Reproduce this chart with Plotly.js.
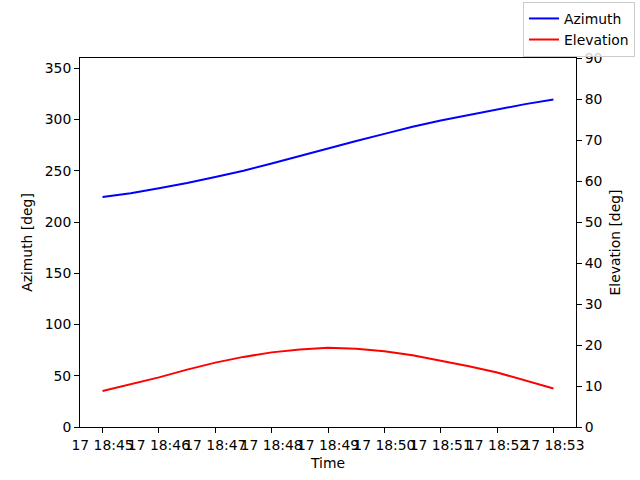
<!DOCTYPE html>
<html>
<head>
<meta charset="utf-8">
<script src="https://cdn.plot.ly/plotly-3.0.1.min.js"></script>
<style>html,body{margin:0;padding:0;background:#fff;}</style>
</head>
<body>
<div id="chart" style="width:640px;height:480px;"></div>
<script>
var times = [
  "2024-01-17 18:45:00","2024-01-17 18:45:30","2024-01-17 18:46:00","2024-01-17 18:46:30",
  "2024-01-17 18:47:00","2024-01-17 18:47:30","2024-01-17 18:48:00","2024-01-17 18:48:30",
  "2024-01-17 18:49:00","2024-01-17 18:49:30","2024-01-17 18:50:00","2024-01-17 18:50:30",
  "2024-01-17 18:51:00","2024-01-17 18:51:30","2024-01-17 18:52:00","2024-01-17 18:52:30",
  "2024-01-17 18:53:00"
];
var azimuth = [224.4, 228, 233, 238, 244, 250, 257, 264.5, 272, 279, 286, 293, 299, 304.5, 310, 315, 319.5];
var elevation = [8.8, 10.5, 12.1, 14.0, 15.7, 17.1, 18.2, 18.9, 19.3, 19.1, 18.5, 17.5, 16.2, 14.8, 13.3, 11.4, 9.4];
var leftTicks = [0, 50, 100, 150, 200, 250, 300, 350];
var rightTicks = [0, 10, 20, 30, 40, 50, 60, 70, 80, 90];

var font = {family: "DejaVu Sans", size: 13.9, color: "#000"};
var traces = [
  {x: times, y: azimuth, name: "Azimuth", type: "scatter", mode: "lines",
   line: {color: "blue", width: 2}, yaxis: "y"},
  {x: times, y: elevation, name: "Elevation", type: "scatter", mode: "lines",
   line: {color: "red", width: 2}, yaxis: "y2"}
];
var layout = {
  width: 640, height: 480,
  margin: {l: 80, r: 64, t: 58, b: 53, pad: 0, autoexpand: false},
  paper_bgcolor: "#fff", plot_bgcolor: "#fff",
  font: font,
  showlegend: true,
  legend: {x: 1.119, xanchor: "right", y: 1.152, yanchor: "top",
           bordercolor: "#cccccc", borderwidth: 1, bgcolor: "rgba(255,255,255,0.8)",
           font: {family: "DejaVu Sans", size: 13.9}, tracegroupgap: 0, itemwidth: 30},
  xaxis: {
    type: "date", automargin: false,
    range: ["2024-01-17 18:44:36", "2024-01-17 18:53:24"],
    tick0: "2024-01-17 18:45:00", dtick: 60000, tickformat: "%d %H:%M",
    tickangle: 0,
    showgrid: false, zeroline: false,
    showline: true, linecolor: "#000", linewidth: 1, mirror: true,
    ticks: "outside", ticklen: 5, tickcolor: "#000",
    tickfont: font,
    title: {text: "Time", font: font, standoff: 6}
  },
  yaxis: {
    range: [0, 360], tickvals: leftTicks, automargin: false,
    showgrid: false, zeroline: false,
    showline: true, linecolor: "#000", linewidth: 1,
    ticks: "outside", ticklen: 5, tickcolor: "#000",
    tickfont: font,
    title: {text: "Azimuth [deg]", font: font, standoff: 8}
  },
  yaxis2: {
    range: [0, 90], tickvals: rightTicks, automargin: false,
    overlaying: "y", side: "right",
    showgrid: false, zeroline: false,
    showline: true, linecolor: "#000", linewidth: 1,
    ticks: "outside", ticklen: 5, tickcolor: "#000",
    tickfont: font,
    title: {text: "Elevation [deg]", font: font, standoff: 8}
  }
};
Plotly.newPlot("chart", traces, layout, {displayModeBar: false, staticPlot: true});
</script>
</body>
</html>
